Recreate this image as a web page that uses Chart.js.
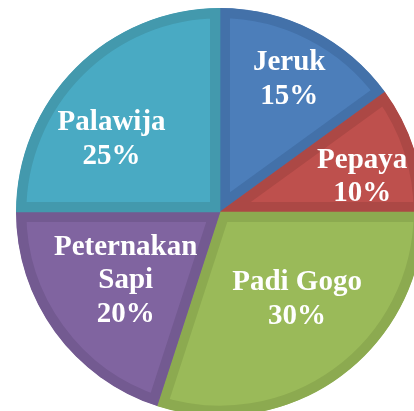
<!DOCTYPE html>
<html>
<head>
<meta charset="utf-8">
<script src="https://cdn.jsdelivr.net/npm/chart.js@4.4.0/dist/chart.umd.min.js"></script>
<style>
html,body{margin:0;padding:0;background:#fff;overflow:hidden;width:414px;height:411px;}
canvas{position:absolute;left:0;top:0;}
</style>
</head>
<body>
<canvas id="c" width="440" height="424"></canvas>
<script>
const categories = ["Jeruk", "Pepaya", "Padi Gogo", "Peternakan Sapi", "Palawija"];
const values = [15, 10, 30, 20, 25];
const labelLines = [["Jeruk"], ["Pepaya"], ["Padi Gogo"], ["Peternakan", "Sapi"], ["Palawija"]];
const fillColors = ["#4c7eba", "#be504d", "#9aba59", "#8064a0", "#49aac3"];
const bandColors = ["#4371a9", "#ac4845", "#8caa50", "#735a91", "#4399ad"];
// label placement (fraction of radius, angle offset in degrees)
const labelFrac = [0.70, 0.71, 0.60, 0.595, 0.62];
const labelAngleOff = [2, 7, -3, -3, -14];

const labelPlugin = {
  id: 'sliceLabels',
  afterDatasetsDraw(chart) {
    const ctx = chart.ctx;
    const meta = chart.getDatasetMeta(0);
    const total = values.reduce((a, b) => a + b, 0);
    ctx.save();
    ctx.fillStyle = '#ffffff';
    ctx.font = 'bold 29px "Liberation Serif", "Times New Roman", serif';
    ctx.textAlign = 'center';
    ctx.textBaseline = 'alphabetic';
    meta.data.forEach((arc, i) => {
      const p = arc.getProps(['x', 'y', 'startAngle', 'endAngle', 'outerRadius'], true);
      const mid = (p.startAngle + p.endAngle) / 2 + labelAngleOff[i] * Math.PI / 180;
      const r = p.outerRadius * labelFrac[i];
      const cx = p.x + Math.cos(mid) * r;
      const cy = p.y + Math.sin(mid) * r;
      const lines = labelLines[i].concat([Math.round(values[i] / total * 100) + '%']);
      const lh = 33.5;
      lines.forEach((t, k) => {
        ctx.fillText(t, cx, cy + (k - (lines.length - 1) / 2) * lh);
      });
    });
    ctx.restore();
  }
};

new Chart(document.getElementById('c'), {
  type: 'pie',
  data: {
    labels: categories,
    datasets: [{
      data: values,
      backgroundColor: fillColors,
      borderColor: bandColors,
      borderWidth: 10,
      borderAlign: 'inner'
    }]
  },
  options: {
    responsive: false,
    animation: false,
    layout: { padding: { left: 16, right: 16, top: 8, bottom: 8 } },
    plugins: {
      legend: { display: false },
      tooltip: { enabled: false }
    }
  },
  plugins: [labelPlugin]
});
</script>
</body>
</html>
